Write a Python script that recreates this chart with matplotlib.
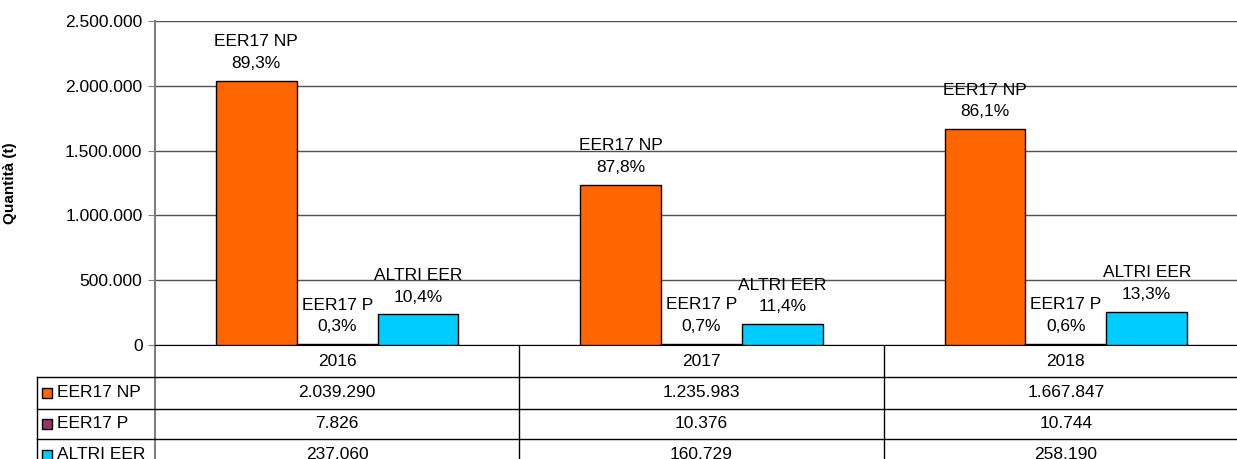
import numpy as np
import matplotlib
matplotlib.use("Agg")
import matplotlib.pyplot as plt
from matplotlib.transforms import blended_transform_factory
from matplotlib.patches import Rectangle

plt.rcParams['font.family'] = ['Liberation Sans', 'DejaVu Sans']

# dati
anni = ['2016', '2017', '2018']
serie = ['EER17 NP', 'EER17 P', 'ALTRI EER']
eer17_np = [2039290, 1235983, 1667847]
eer17_p = [7826, 10376, 10744]
altri_eer = [237060, 160729, 258190]
colori = ['#FF6600', '#993366', '#00CCFF']


def fmt_it(v):
    return f"{int(round(v)):,}".replace(",", ".")


valori = np.array([eer17_np, eer17_p, altri_eer], dtype=float)
totali = valori.sum(axis=0)

W, H = 1237, 459
FS = 12.5
fig = plt.figure(figsize=(W / 100, H / 100), dpi=100)

# asse del grafico (in pixel: sinistra 155, destra 1248, alto 21, basso 345)
ax = fig.add_axes([155 / W, (H - 345) / H, (1248 - 155) / W, (345 - 21) / H])
# asse di appoggio per la tabella, in pixel
tab = fig.add_axes([0, 0, 1, 1], zorder=-1)
tab.set_xlim(0, W)
tab.set_ylim(H, 0)
tab.axis('off')

x = np.arange(len(anni))
larg = 0.222
for i, nome in enumerate(serie):
    pos = x + (i - 1) * larg
    ax.bar(pos, valori[i], width=larg, color=colori[i], edgecolor='black',
           linewidth=1, zorder=3)
    for j in range(len(anni)):
        pct = valori[i][j] / totali[j] * 100
        testo = nome + "\n" + f"{pct:.1f}".replace(".", ",") + "%"
        ax.annotate(testo, (pos[j], valori[i][j]), xytext=(0, 7),
                    textcoords='offset points', ha='center', va='bottom',
                    fontsize=FS, linespacing=1.55, zorder=4)

ax.set_xlim(-0.5, 2.5)
ax.set_ylim(0, 2500000)
ax.set_yticks(np.arange(0, 2500001, 500000))
ax.set_yticklabels([fmt_it(v) for v in np.arange(0, 2500001, 500000)], fontsize=FS)
ax.set_xticks([])
ax.yaxis.grid(True, color='#505050', linewidth=1)
ax.set_axisbelow(True)
ax.tick_params(axis='y', length=5, color='#808080', pad=4)
for s in ['top', 'right']:
    ax.spines[s].set_visible(False)
ax.spines['left'].set_color('#808080')
ax.spines['left'].set_linewidth(1.5)
ax.spines['bottom'].set_color('black')
ax.set_ylabel('Quantità (t)', fontsize=11, fontweight='bold',
              family=['Liberation Sans', 'DejaVu Sans'])
ax.yaxis.set_label_coords((17 - 155) / (1248 - 155), 0.5)

# tabella dei dati sotto il grafico
tr = blended_transform_factory(ax.transData, tab.transData)
righe_y = [377, 408.5, 439, 470]
lc = 'black'
# linea verticale dell'asse prolungata
tab.plot([155, 155], [345, H + 5], color='#808080', lw=1.5)
tab.plot([37, 37], [righe_y[0], H + 5], color=lc, lw=1)
for b in [0.5, 1.5]:
    tab.plot([b, b], [345, H + 5], color=lc, lw=1, transform=tr)
for yy in righe_y[:3]:
    tab.plot([37, W + 5], [yy, yy], color=lc, lw=1)

for j, anno in enumerate(anni):
    tab.text(j, 361, anno, transform=tr, ha='center', va='center', fontsize=FS)

for i, nome in enumerate(serie):
    yc = (righe_y[i] + righe_y[i + 1]) / 2
    tab.add_patch(Rectangle((42, yc - 4.5), 10, 10, facecolor=colori[i],
                            edgecolor='black', lw=1))
    tab.text(57, yc, nome, ha='left', va='center', fontsize=FS)
    for j in range(len(anni)):
        tab.text(j, yc, fmt_it(valori[i][j]), transform=tr,
                 ha='center', va='center', fontsize=FS)

fig.savefig('out.png', dpi=100)
